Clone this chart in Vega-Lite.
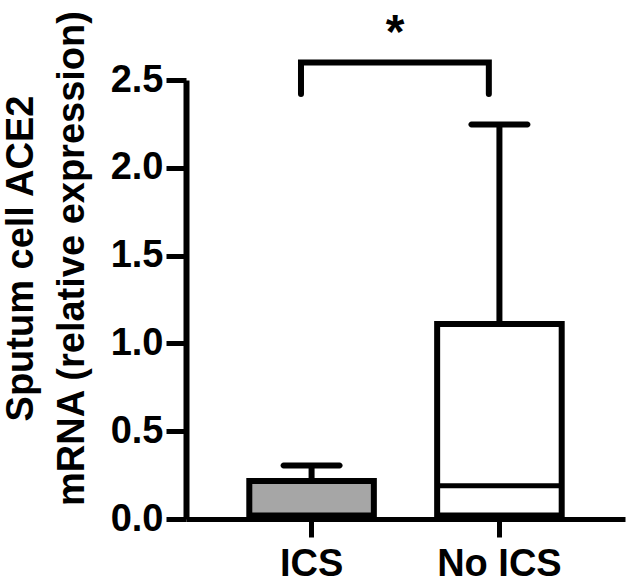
{
  "$schema": "https://vega.github.io/schema/vega-lite/v6.json",
  "autosize": "none",
  "width": 439,
  "height": 439,
  "padding": {"left": 186, "top": 80, "right": 5, "bottom": 69},
  "background": "white",
  "config": {
    "view": {"stroke": null},
    "axis": {"grid": false, "labelFont": "Liberation Sans", "titleFont": "Liberation Sans"}
  },
  "datasets": {
    "boxes": [
      {"group": "ICS", "q1": 0.02, "q3": 0.216, "median": null, "max": 0.304},
      {"group": "No ICS", "q1": 0.02, "q3": 1.11, "median": 0.19, "max": 2.246}
    ],
    "bracket": [
      {"group": "ICS", "y": 2.42, "o": 1},
      {"group": "ICS", "y": 2.6, "o": 2},
      {"group": "No ICS", "y": 2.6, "o": 3},
      {"group": "No ICS", "y": 2.42, "o": 4}
    ],
    "star": [{"group": "ICS", "y": 2.76, "label": "*"}]
  },
  "layer": [
    {
      "data": {"name": "boxes"},
      "mark": {"type": "bar", "stroke": "black", "strokeWidth": 6},
      "encoding": {
        "x": {
          "field": "group", "type": "nominal",
          "scale": {"domain": ["ICS", "No ICS"], "paddingInner": 0.337, "paddingOuter": 0.337},
          "axis": {
            "title": null, "labelAngle": 0, "labelFontSize": 38, "labelFontWeight": "bold", "labelColor": "black",
            "domainColor": "black", "domainWidth": 5, "tickColor": "black", "tickWidth": 5, "tickSize": 18, "labelPadding": 8
          }
        },
        "y": {
          "field": "q1", "type": "quantitative",
          "scale": {"domain": [0, 2.5], "nice": false},
          "axis": {
            "values": [0, 0.5, 1, 1.5, 2, 2.5], "format": ".1f",
            "title": ["Sputum cell ACE2", "mRNA (relative expression)"],
            "titleFontSize": 38, "titleFontWeight": "bold", "titleColor": "black",
            "titleAngle": -90, "titleAlign": "center", "titleBaseline": "top",
            "titleX": -184, "titleY": 178, "titleLineHeight": 51,
            "labelFontSize": 38, "labelFontWeight": "bold", "labelColor": "black", "labelPadding": 3,
            "domainColor": "black", "domainWidth": 6, "tickColor": "black", "tickWidth": 5, "tickSize": 20
          }
        },
        "y2": {"field": "q3"},
        "fill": {"field": "group", "type": "nominal", "scale": {"domain": ["ICS", "No ICS"], "range": ["#a6a6a6", "#ffffff"]}, "legend": null}
      }
    },
    {
      "data": {"name": "boxes"},
      "mark": {"type": "rule", "color": "black", "strokeWidth": 6},
      "encoding": {
        "x": {"field": "group", "type": "nominal"},
        "y": {"field": "q3", "type": "quantitative"},
        "y2": {"field": "max"}
      }
    },
    {
      "data": {"name": "boxes"},
      "mark": {"type": "tick", "color": "black", "size": 62, "thickness": 6, "cornerRadius": 3, "opacity": 1},
      "encoding": {
        "x": {"field": "group", "type": "nominal"},
        "y": {"field": "max", "type": "quantitative"}
      }
    },
    {
      "data": {"name": "boxes"},
      "transform": [{"filter": "datum.median != null"}],
      "mark": {"type": "tick", "color": "black", "size": 120, "thickness": 5, "opacity": 1},
      "encoding": {
        "x": {"field": "group", "type": "nominal"},
        "y": {"field": "median", "type": "quantitative"}
      }
    },
    {
      "data": {"name": "bracket"},
      "mark": {"type": "line", "color": "black", "strokeWidth": 6, "strokeCap": "round", "strokeJoin": "miter"},
      "encoding": {
        "x": {"field": "group", "type": "nominal", "bandPosition": 0.415},
        "y": {"field": "y", "type": "quantitative"},
        "order": {"field": "o", "type": "quantitative"}
      }
    },
    {
      "data": {"name": "star"},
      "mark": {"type": "text", "font": "Liberation Sans", "fontWeight": "bold", "fontSize": 48, "color": "black", "baseline": "middle", "align": "center"},
      "encoding": {
        "x": {"field": "group", "type": "nominal", "bandPosition": 1.17},
        "y": {"field": "y", "type": "quantitative"},
        "text": {"field": "label"}
      }
    }
  ]
}
